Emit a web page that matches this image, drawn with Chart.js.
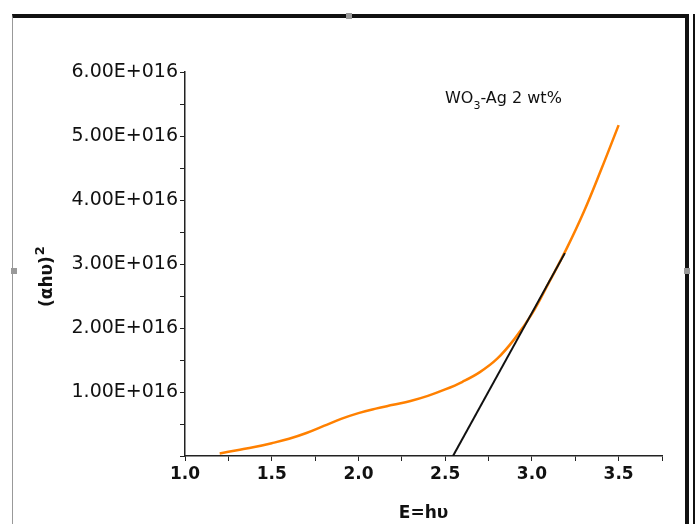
<!DOCTYPE html>
<html>
<head>
<meta charset="utf-8">
<script src="https://cdn.jsdelivr.net/npm/chart.js@4.4.0/dist/chart.umd.min.js"></script>
<style>
  html, body { margin: 0; padding: 0; background: #fff; }
  #wrap { position: relative; width: 698px; height: 524px; overflow: hidden; }
  #frame { position: absolute; left: 12px; top: 14px; width: 672px; height: 600px;
           border-left: 1px solid #999; border-top: 4px solid #111; border-right: 4px solid #111; }
  #frame2 { position: absolute; left: 693px; top: 14px; width: 2px; height: 600px; background: #111; }
  .handle { position: absolute; width: 6px; height: 6px; background: #999; }
  canvas { position: absolute; left: 0; top: 0; }
</style>
</head>
<body>
<div id="wrap">
  <div id="frame"></div>
  <div id="frame2"></div>
  <div class="handle" style="left:346px;top:13px"></div>
  <div class="handle" style="left:684px;top:268px"></div>
  <div class="handle" style="left:11px;top:268px"></div>
  <canvas id="chart" width="698" height="524"></canvas>
</div>
<script>
// photon energy (eV) and (alpha h nu)^2 in units of 1E+016
const energy = [1.20, 1.30, 1.40, 1.50, 1.60, 1.70, 1.80, 1.90, 2.00, 2.10, 2.20, 2.30,
                2.40, 2.50, 2.60, 2.70, 2.80, 2.90, 3.00, 3.10, 3.20, 3.30, 3.40, 3.50];
const absorb = [0.04, 0.09, 0.14, 0.20, 0.27, 0.36, 0.47, 0.58, 0.67, 0.74, 0.80, 0.86,
                0.94, 1.04, 1.16, 1.31, 1.52, 1.83, 2.22, 2.72, 3.24, 3.82, 4.48, 5.17];
// tangent (Tauc extrapolation)
const fitX = [2.545, 3.19];
const fitY = [0, 3.17];

const labelMain = 'WO';
const labelSub = '3';
const labelRest = '-Ag 2 wt%';
const yTitle = '(\u03b1h\u03c5)';
const yTitleSup = '2';

const curvePts = energy.map((x, i) => ({ x: x, y: absorb[i] }));
const fitPts = fitX.map((x, i) => ({ x: x, y: fitY[i] }));

const FONT = '"DejaVu Sans", "Liberation Sans", sans-serif';

const annotate = {
    id: 'annotate',
    afterDraw(chart) {
        const ctx = chart.ctx;
        ctx.save();
        ctx.fillStyle = '#111';
        ctx.textBaseline = 'alphabetic';
        let x = 445;
        ctx.font = '16px ' + FONT;
        ctx.fillText(labelMain, x, 103);
        x += ctx.measureText(labelMain).width;
        ctx.font = '11px ' + FONT;
        ctx.fillText(labelSub, x, 109);
        x += ctx.measureText(labelSub).width;
        ctx.font = '16px ' + FONT;
        ctx.fillText(labelRest, x, 103);
        ctx.restore();

        // rotated y title with superscript
        ctx.save();
        ctx.translate(52, 307);
        ctx.rotate(-Math.PI / 2);
        ctx.fillStyle = '#111';
        ctx.font = 'bold 17px ' + FONT;
        ctx.fillText(yTitle, 0, 0);
        const w = ctx.measureText(yTitle).width;
        ctx.font = 'bold 13px ' + FONT;
        ctx.fillText(yTitleSup, w + 1, -8);
        ctx.restore();
    }
};

new Chart(document.getElementById('chart'), {
    type: 'line',
    data: {
        datasets: [{
            data: curvePts,
            borderColor: '#ff8000',
            borderWidth: 2.5,
            pointRadius: 0,
            fill: false,
            tension: 0.4,
            order: 2
        }, {
            data: fitPts,
            borderColor: '#111',
            borderWidth: 2,
            pointRadius: 0,
            fill: false,
            order: 1
        }]
    },
    options: {
        responsive: false,
        animation: false,
        layout: { padding: { left: 0, top: 72, right: 36, bottom: 0 } },
        plugins: { legend: { display: false }, tooltip: { enabled: false } },
        scales: {
            x: {
                type: 'linear',
                min: 1,
                max: 3.75,
                afterFit(scale) { scale.height = 68; },
                border: { color: '#222', width: 1.5 },
                grid: { display: true, drawOnChartArea: false, drawTicks: true, tickLength: 5, color: '#222' },
                ticks: {
                    stepSize: 0.25,
                    autoSkip: false,
                    maxRotation: 0,
                    color: '#111',
                    padding: 3,
                    font: { family: FONT, size: 17, weight: 'bold' },
                    callback: v => (Math.abs(v * 2 - Math.round(v * 2)) < 1e-6 && v < 3.7) ? v.toFixed(1) : ''
                },
                title: {
                    display: true,
                    text: 'E=h\u03c5',
                    color: '#111',
                    padding: { top: 0, bottom: 0 },
                    font: { family: FONT, size: 17, weight: 'bold' }
                }
            },
            y: {
                min: 0,
                max: 6,
                afterFit(scale) { scale.width = 185; },
                border: { color: '#222', width: 1.5 },
                grid: { display: true, drawOnChartArea: false, drawTicks: true, tickLength: 5, color: '#222' },
                ticks: {
                    stepSize: 0.5,
                    autoSkip: false,
                    color: '#111',
                    padding: 2,
                    font: { family: FONT, size: 19 },
                    callback: v => (v > 0 && Number.isInteger(v)) ? v.toFixed(2) + 'E+016' : ''
                }
            }
        }
    },
    plugins: [annotate]
});
</script>
</body>
</html>
